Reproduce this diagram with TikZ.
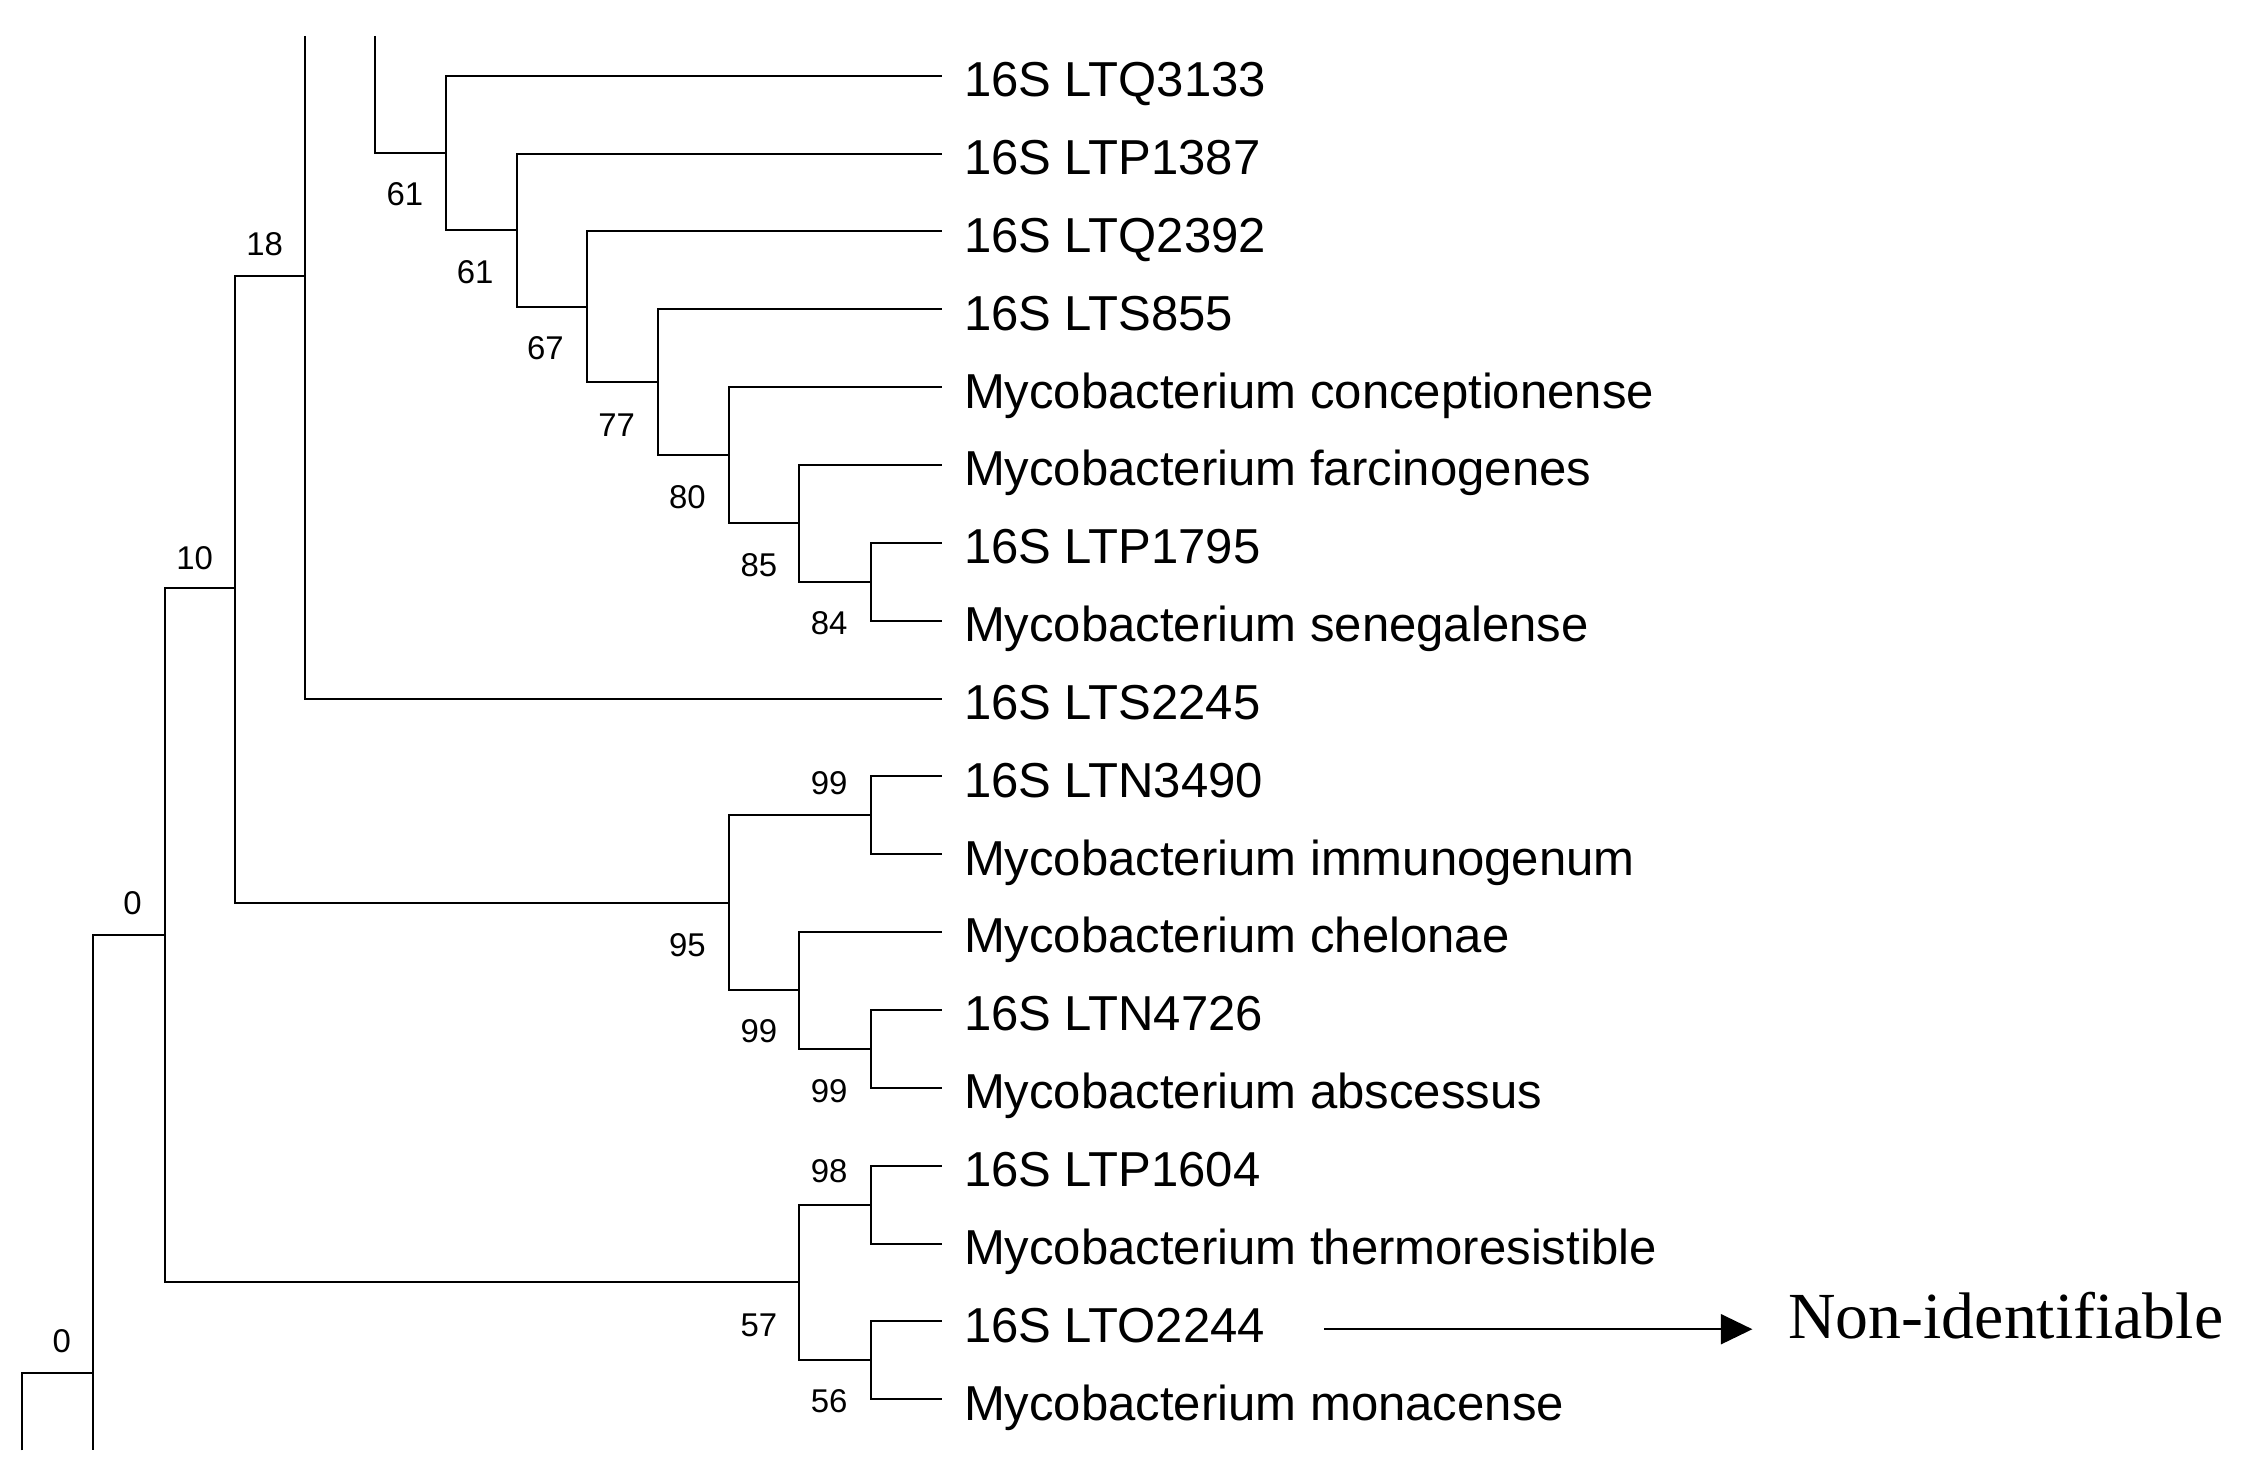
\documentclass[tikz,border=0pt]{standalone}
\usepackage{fontspec}
\setmainfont{Liberation Sans}
\newfontfamily\nonidfont{Liberation Serif}
\usetikzlibrary{arrows.meta}
\begin{document}
\begin{tikzpicture}[x=1pt,y=-1pt,
  branch/.style={line width=1.4pt},
  leaflabel/.style={anchor=base west, inner sep=0pt, font=\fontsize{34.3}{40}\selectfont},
  boot/.style={inner sep=0pt, font=\fontsize{23}{26}\selectfont},
  nonid/.style={anchor=base west, inner sep=0pt, font=\nonidfont\fontsize{46}{50}\selectfont},
  arrowline/.style={line width=1.3pt, -{Triangle[length=22pt,width=21pt]}, shorten >=25pt}
]
\fill[white] (0,0) rectangle (1568,1027);
\useasboundingbox (0,0) rectangle (1568,1027);

% tips
\coordinate (t1) at (658.5,53.0);
\coordinate (t2) at (658.5,107.4);
\coordinate (t3) at (658.5,161.8);
\coordinate (t4) at (658.5,216.3);
\coordinate (t5) at (658.5,270.7);
\coordinate (t6) at (658.5,325.1);
\coordinate (t7) at (658.5,379.5);
\coordinate (t8) at (658.5,433.9);
\coordinate (t9) at (658.5,488.4);
\coordinate (t10) at (658.5,542.8);
\coordinate (t11) at (658.5,597.2);
\coordinate (t12) at (658.5,651.6);
\coordinate (t13) at (658.5,706.0);
\coordinate (t14) at (658.5,760.4);
\coordinate (t15) at (658.5,814.9);
\coordinate (t16) at (658.5,869.3);
\coordinate (t17) at (658.5,923.7);
\coordinate (t18) at (658.5,978.1);

% leaf labels
\node[leaflabel] (l1) at (673.7,67.6) {16S LTQ3133};
\node[leaflabel] (l2) at (673.7,122.0) {16S LTP1387};
\node[leaflabel] (l3) at (673.7,176.4) {16S LTQ2392};
\node[leaflabel] (l4) at (673.7,230.9) {16S LTS855};
\node[leaflabel] (l5) at (673.7,285.3) {Mycobacterium conceptionense};
\node[leaflabel] (l6) at (673.7,339.7) {Mycobacterium farcinogenes};
\node[leaflabel] (l7) at (673.7,394.1) {16S LTP1795};
\node[leaflabel] (l8) at (673.7,448.5) {Mycobacterium senegalense};
\node[leaflabel] (l9) at (673.7,503.0) {16S LTS2245};
\node[leaflabel] (l10) at (673.7,557.4) {16S LTN3490};
\node[leaflabel] (l11) at (673.7,611.8) {Mycobacterium immunogenum};
\node[leaflabel] (l12) at (673.7,666.2) {Mycobacterium chelonae};
\node[leaflabel] (l13) at (673.7,720.6) {16S LTN4726};
\node[leaflabel] (l14) at (673.7,775.0) {Mycobacterium abscessus};
\node[leaflabel] (l15) at (673.7,829.5) {16S LTP1604};
\node[leaflabel] (l16) at (673.7,883.9) {Mycobacterium thermoresistible};
\node[leaflabel] (l17) at (673.7,938.3) {16S LTO2244};
\node[leaflabel] (l18) at (673.7,992.7) {Mycobacterium monacense};

% internal nodes
\coordinate (n84) at (608.6,406.7);
\coordinate (n85) at (558.6,365.9);
\coordinate (n80) at (509.6,318.3);
\coordinate (n77) at (460.1,267.3);
\coordinate (n67) at (410.6,214.5);
\coordinate (n61b) at (361.1,161.0);
\coordinate (n61a) at (312.1,107.0);
\coordinate (topB) at (262.2,25);
\coordinate (topA) at (213.1,25);
\coordinate (nTop) at (213.1,192.6);
\coordinate (n18) at (164.0,411.3);
\coordinate (n99a) at (608.6,570.0);
\coordinate (n99c) at (608.6,733.2);
\coordinate (n99b) at (558.6,692.4);
\coordinate (n95) at (509.6,631.2);
\coordinate (n10) at (115.0,653.6);
\coordinate (n98) at (608.6,842.1);
\coordinate (n56) at (608.6,950.9);
\coordinate (n57) at (558.6,896.5);
\coordinate (n0) at (65.1,960.1);
\coordinate (n0bot) at (65.1,1013.9);
\coordinate (root) at (15.6,960.1);
\coordinate (rootbot) at (15.6,1013.9);

% branches
\draw[branch] (n84) |- (t7);
\draw[branch] (n84) |- (t8);
\draw[branch] (n85) |- (t6);
\draw[branch] (n85) |- (n84);
\draw[branch] (n80) |- (t5);
\draw[branch] (n80) |- (n85);
\draw[branch] (n77) |- (t4);
\draw[branch] (n77) |- (n80);
\draw[branch] (n67) |- (t3);
\draw[branch] (n67) |- (n77);
\draw[branch] (n61b) |- (t2);
\draw[branch] (n61b) |- (n67);
\draw[branch] (n61a) |- (t1);
\draw[branch] (n61a) |- (n61b);
\draw[branch] (topB) |- (n61a);
\draw[branch] (topA) -- (nTop);
\draw[branch] (nTop) |- (t9);
\draw[branch] (n18) |- (nTop);
\draw[branch] (n18) |- (n95);
\draw[branch] (n95) |- (n99a);
\draw[branch] (n95) |- (n99b);
\draw[branch] (n99a) |- (t10);
\draw[branch] (n99a) |- (t11);
\draw[branch] (n99b) |- (t12);
\draw[branch] (n99b) |- (n99c);
\draw[branch] (n99c) |- (t13);
\draw[branch] (n99c) |- (t14);
\draw[branch] (n10) |- (n18);
\draw[branch] (n10) |- (n57);
\draw[branch] (n57) |- (n98);
\draw[branch] (n57) |- (n56);
\draw[branch] (n98) |- (t15);
\draw[branch] (n98) |- (t16);
\draw[branch] (n56) |- (t17);
\draw[branch] (n56) |- (t18);
\draw[branch] (n0) |- (n10);
\draw[branch] (n0) -- (n0bot);
\draw[branch] (rootbot) -- (root) -- (n0);

% bootstrap values
\node[boot] (b1) at (92.7,631.6) {0};
\node[boot] (b2) at (43.2,937.4) {0};
\node[boot] (b3) at (136.0,390.5) {10};
\node[boot] (b4) at (185.0,170.5) {18};
\node[boot] (b5) at (283.0,135.4) {61};
\node[boot] (b6) at (332.1,190.6) {61};
\node[boot] (b7) at (381.2,243.4) {67};
\node[boot] (b8) at (431.1,296.9) {77};
\node[boot] (b9) at (480.6,347.7) {80};
\node[boot] (b10) at (530.5,395.2) {85};
\node[boot] (b11) at (579.6,435.4) {84};
\node[boot] (b12) at (579.6,547.6) {99};
\node[boot] (b13) at (480.6,660.8) {95};
\node[boot] (b14) at (530.5,720.8) {99};
\node[boot] (b15) at (579.6,763.0) {99};
\node[boot] (b16) at (579.6,818.5) {98};
\node[boot] (b17) at (530.5,926.5) {57};
\node[boot] (b18) at (579.6,979.6) {56};

% annotation
\coordinate (a1) at (925.6,929.2);
\node[nonid] (nonid) at (1250,936) {Non-identifiable};
\draw[arrowline] (a1) -- (a1 -| nonid.west);
\end{tikzpicture}
\end{document}
